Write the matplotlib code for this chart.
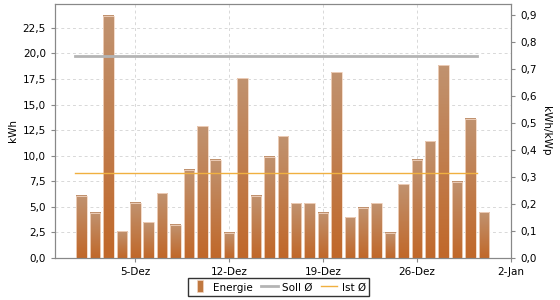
import datetime as dt
import numpy as np
import matplotlib
matplotlib.use("Agg")
import matplotlib.pyplot as plt
import matplotlib.dates as mdates
from matplotlib.ticker import FuncFormatter, MultipleLocator
from matplotlib.colors import LinearSegmentedColormap
from matplotlib.lines import Line2D

# Daily energy in December (kWh)
days = [dt.date(2013, 12, d) for d in range(1, 32)]
energie = [6.1, 4.43, 23.7, 2.63, 5.41, 3.51, 6.33, 3.25, 8.63, 12.9,
           9.62, 2.46, 17.6, 6.1, 9.88, 11.9, 5.35, 5.35, 4.43, 18.15,
           4.0, 4.93, 5.35, 2.46, 7.22, 9.62, 11.4, 18.85, 7.45, 13.6,
           4.47]
soll = 19.76     # kWh per day target
ist = 8.3        # kWh per day actual average
kwp = 26.4       # plant size, kWp

tick_days = [dt.date(2013, 12, 5), dt.date(2013, 12, 12), dt.date(2013, 12, 19),
             dt.date(2013, 12, 26), dt.date(2014, 1, 2)]
tick_labels = ["5-Dez", "12-Dez", "19-Dez", "26-Dez", "2-Jan"]

plt.rcParams['font.family'] = 'DejaVu Sans'
plt.rcParams['font.size'] = 7.5

fig = plt.figure(figsize=(5.6, 3.0), dpi=100)
ax = fig.add_axes([0.098, 0.14, 0.815, 0.847])

x = mdates.date2num(days)
bars = ax.bar(x, energie, width=0.78, color='none', edgecolor='#f3d6c2',
              linewidth=0.6, zorder=3)

# gradient fill per bar, tan at top, orange at bottom
cmap = LinearSegmentedColormap.from_list('bar', ['#c1682a', '#c0926f'])
grad = np.linspace(0, 1, 64).reshape(-1, 1)
for b in bars:
    x0 = b.get_x()
    ax.imshow(grad, cmap=cmap, origin='lower', aspect='auto',
              extent=(x0, x0 + b.get_width(), 0, b.get_height()), zorder=2)

# average lines
x_line = [x[0] - 0.5, x[-1] - 0.5]
ax.plot(x_line, [soll, soll], color='#b4b4b4', linewidth=2.0, zorder=4)
ax.plot(x_line, [ist, ist], color='#f0b040', linewidth=1.0, zorder=4)

ax.set_xlim(mdates.date2num(dt.date(2013, 11, 29)), mdates.date2num(dt.date(2014, 1, 2)) + 0.05)
ax.set_ylim(0, 24.85)
ax.set_xticks(mdates.date2num(tick_days))
ax.set_xticklabels(tick_labels)
ax.yaxis.set_major_locator(MultipleLocator(2.5))
ax.yaxis.set_major_formatter(FuncFormatter(lambda v, p: ('%.1f' % v).replace('.', ',')))
ax.set_ylabel('kWh', labelpad=3)
ax.grid(True, color='#d8d8d8', linestyle=(0, (3, 3)), linewidth=0.7, zorder=0)

ax2 = ax.twinx()
ax2.set_ylim(0, 24.85 / kwp)
ax2.yaxis.set_major_locator(MultipleLocator(0.1))
ax2.yaxis.set_major_formatter(FuncFormatter(lambda v, p: ('%.1f' % v).replace('.', ',')))
ax2.set_ylabel('kWh/kWp', rotation=270, labelpad=10)

for a in (ax, ax2):
    for s in a.spines.values():
        s.set_color('#888888')
    a.tick_params(colors='#888888', labelcolor='black', length=3, width=0.8)

bar_marker = [(-0.5, -1), (0.5, -1), (0.5, 1), (-0.5, 1), (-0.5, -1)]
handles = [Line2D([], [], linestyle='none', marker=bar_marker, markersize=9,
                  markerfacecolor='#c07840', markeredgecolor='#f3d6c2', markeredgewidth=0.5),
           Line2D([], [], color='#b4b4b4', linewidth=2),
           Line2D([], [], color='#f0b040', linewidth=1)]
leg = fig.legend(handles, ['Energie', 'Soll Ø', 'Ist Ø'], loc='lower center',
                 bbox_to_anchor=(0.498, -0.005), ncol=3, frameon=True, fancybox=False,
                 handlelength=1.6, handletextpad=0.4, columnspacing=0.8,
                 borderpad=0.35, fontsize=7.5, handleheight=1.2)
leg.get_frame().set_edgecolor('black')
leg.get_frame().set_linewidth(1.0)

fig.savefig('out.png', dpi=100)
